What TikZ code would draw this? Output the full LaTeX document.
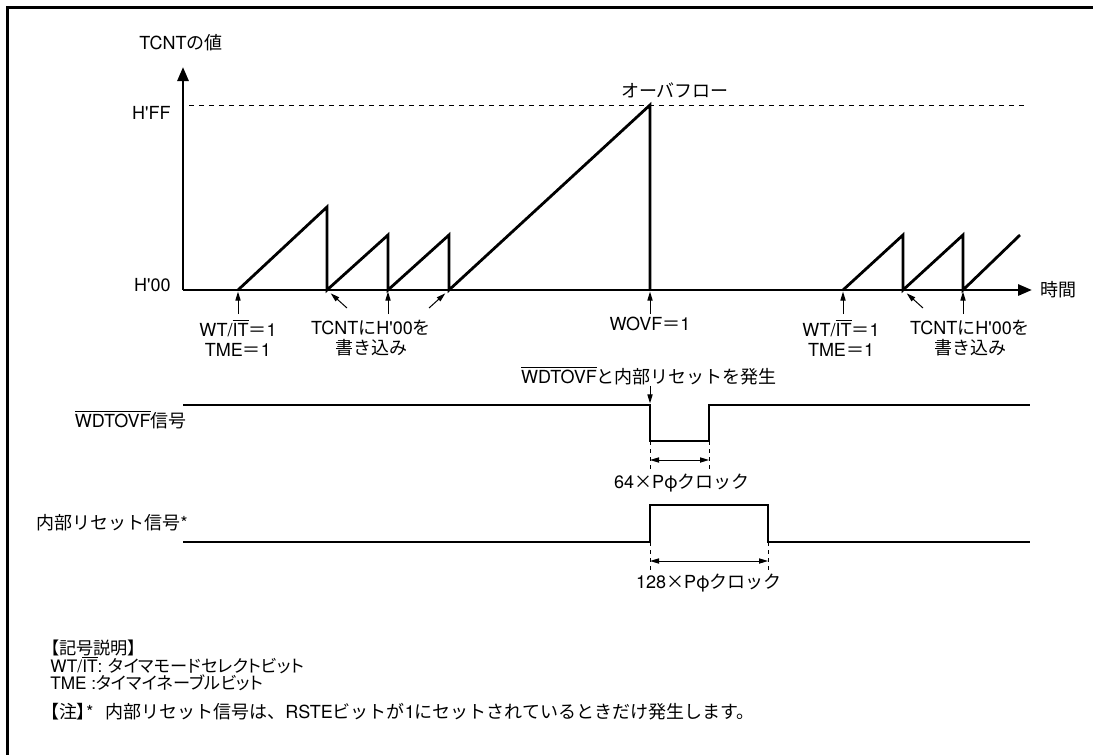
\documentclass[tikz,border=0pt]{standalone}
\usepackage{fontspec}
\setmainfont{TeX Gyre Heros}
\newfontfamily\jpfont{Noto Sans CJK JP}
\newfontfamily\jpprop{Noto Sans CJK JP}[RawFeature=+palt]
\usetikzlibrary{positioning, arrows.meta}
\newcommand\jtxt[1]{{\jpfont #1}}
\newcommand\jptxt[1]{{\jpprop #1}}
\newcommand\ovl[1]{\ensuremath{\overline{\mbox{#1}}}}
\newcommand\hx[1]{H\textquotesingle #1}

\begin{document}
\begin{tikzpicture}[
  x=0.5pt, y=-0.5pt, font=\fontsize{9}{10}\selectfont,
  >={Triangle[length=4.5pt, width=2.6pt]},
  sig/.style={line width=1.4pt},
  axis/.style={line width=1.4pt, -{Triangle[length=7pt, width=5.5pt]}},
  pointer/.style={line width=0.5pt, ->, shorten >=0.8pt},
  span/.style={line width=0.5pt, <->},
  guide/.style={line width=0.5pt, dash pattern=on 2pt off 2pt},
  lbl/.style={inner sep=0pt, align=center},
  keytxt/.style={lbl, anchor=west, font=\fontsize{8.6}{9}\selectfont},
]
  \useasboundingbox (0,0) rectangle (1093,755);
  \draw[line width=1.5pt] (7,770) |- (1110,7);

  % TCNT value
  \coordinate (org) at (183,290);
  \coordinate (ytop) at (183,67);
  \coordinate (tend) at (1032,290);
  \draw[axis] (org) -- (ytop);
  \draw[axis] (org) -- (tend);
  \node[lbl] (yname) at (181,43) {TCNT\jtxt{の値}};
  \node[lbl, right=4pt of tend] (tname) {\jtxt{時間}};
  \node[lbl, anchor=east] (hff) at (171,113) {\hx{FF}};
  \node[lbl, anchor=east] (h00) at (171,285) {\hx{00}};
  \draw[guide, dash pattern=on 2.5pt off 2.5pt] (189,105) -- (1024,105);

  \coordinate (st1) at (238,290);
  \coordinate (rs1) at (327,290);
  \coordinate (rs2) at (388,290);
  \coordinate (rs3) at (449,290);
  \coordinate (ovf) at (650,290);
  \coordinate (st2) at (843,290);
  \coordinate (rs4) at (903,290);
  \coordinate (rs5) at (963,290);
  \draw[sig] (st1) -- (327,207) -- (rs1) -- (388,235) -- (rs2) -- (449,235) -- (rs3)
    -- (650,105) -- (ovf);
  \draw[sig] (st2) -- (903,235) -- (rs4) -- (963,235) -- (rs5) -- (1020,235);
  \node[lbl] (ovfl) at (675,90) {\jtxt{オーバフロー}};

  \foreach \p in {st1, rs2, ovf, st2, rs5}
    \draw[pointer] ([yshift=-12pt]\p) -- (\p);
  \draw[pointer, shorten >=2.5pt] (347,308) -- (rs1);
  \draw[pointer, shorten >=2.5pt] (429,308) -- (rs3);
  \draw[pointer, shorten >=2.5pt] (923,308) -- (rs4);

  \node[lbl] (wt1) at (238,338) {WT/\ovl{IT}\jtxt{＝}1\\TME\jtxt{＝}1};
  \node[lbl] (wr1) at (371,338) {TCNT\jtxt{に}\hx{00}\jtxt{を}\\\jtxt{書き込み}};
  \node[lbl] (wovf) at (650,324) {WOVF\jtxt{＝}1};
  \node[lbl] (wt2) at (841,338) {WT/\ovl{IT}\jtxt{＝}1\\TME\jtxt{＝}1};
  \node[lbl] (wr2) at (970,338) {TCNT\jtxt{に}\hx{00}\jtxt{を}\\\jtxt{書き込み}};

  % WDTOVF
  \coordinate (wfall) at (650,405);
  \draw[sig] (183,405) -- (wfall) -- (650,441) -- (709,441) -- (709,405) -- (1030,405);
  \node[lbl, anchor=east] (wsig) at (187,420) {\ovl{WDTOVF}\jtxt{信号}};
  \node[lbl] (gen) at (649,376) {\ovl{WDTOVF}\jtxt{と内部リセットを発生}};
  \draw[pointer] (gen.south -| wfall) -- (wfall);
  \draw[guide] (650,441) -- (650,471);
  \draw[guide] (709,441) -- (709,471);
  \draw[span] (650,460) -- (709,460);
  \node[lbl] (w64) at (682,483) {64\jtxt{×}P\jtxt{φクロック}};

  % internal reset
  \draw[sig] (183,542) -- (650,542) -- (650,505) -- (768,505) -- (768,542) -- (1030,542);
  \node[lbl, anchor=east] (rsig) at (188,523) {\jtxt{内部リセット信号}*};
  \draw[guide] (650,542) -- (650,573);
  \draw[guide] (768,542) -- (768,573);
  \draw[span] (650,561) -- (768,561);
  \node[lbl] (w128) at (709,583) {128\jtxt{×}P\jtxt{φクロック}};

  % legend
  \node[keytxt] (keyhd) at (50,647.5) {\jptxt{【記号説明】}};
  \node[keytxt] (key1) at (50,665) {WT/\ovl{IT}: \jptxt{タイマモードセレクトビット}};
  \node[keytxt] (key2) at (50,682.5) {TME :\jptxt{タイマイネーブルビット}};
  \node[lbl, anchor=west] (note) at (50,712) {\jptxt{【注】}*\hspace{6pt}\jtxt{内部リセット信号は、}RSTE\jtxt{ビットが}1\jtxt{にセットされているときだけ発生します。}};
\end{tikzpicture}
\end{document}
